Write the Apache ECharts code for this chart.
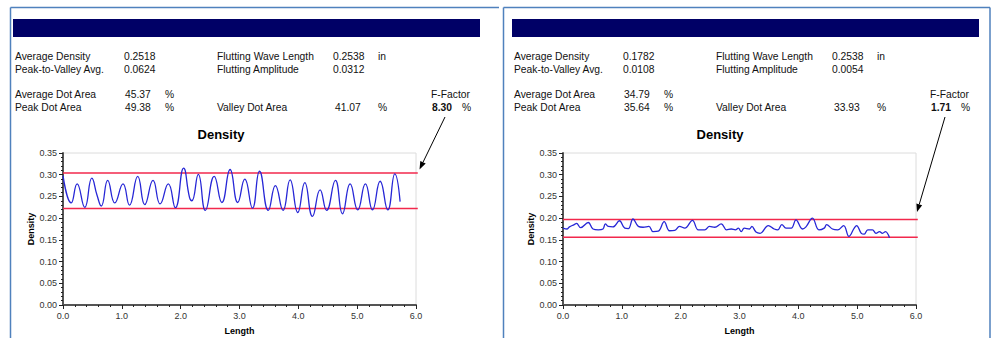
<!DOCTYPE html>
<html>
<head>
<meta charset="utf-8">
<script src="https://cdn.jsdelivr.net/npm/echarts@6/dist/echarts.min.js"></script>
<style>
html,body{margin:0;padding:0;background:#fff;}
#c{width:992px;height:338px;}
</style>
</head>
<body>
<div id="c"></div>
<script>
// ---- data ----
const statLabels = ['Average Density', 'Peak-to-Valley Avg.', 'Flutting Wave Length', 'Flutting Amplitude', 'Average Dot Area', 'Peak Dot Area', 'Valley Dot Area'];
const leftStats = ['0.2518', '0.0624', '0.2538', '0.0312', '45.37', '49.38', '41.07'];
const rightStats = ['0.1782', '0.0108', '0.2538', '0.0054', '34.79', '35.64', '33.93'];
const fFactors = ['8.30', '1.71'];
const chartTitle = 'Density';
const xName = 'Length';
const yName = 'Density';

const leftX = [0, 0.14, 0.24, 0.37, 0.49, 0.58, 0.65, 0.76, 0.88, 1.02, 1.13, 1.27, 1.39, 1.53, 1.65, 1.79, 1.91, 2.05, 2.15, 2.19, 2.30, 2.42, 2.57, 2.70, 2.84, 2.97, 3.09, 3.22, 3.34, 3.49, 3.61, 3.74, 3.86, 3.99, 4.11, 4.24, 4.37, 4.48, 4.63, 4.75, 4.88, 5.01, 5.14, 5.26, 5.39, 5.52, 5.64, 5.73];
const leftY = [0.298, 0.235, 0.279, 0.225, 0.292, 0.252, 0.228, 0.287, 0.235, 0.279, 0.230, 0.296, 0.231, 0.287, 0.233, 0.279, 0.224, 0.315, 0.248, 0.240, 0.301, 0.218, 0.296, 0.236, 0.312, 0.236, 0.290, 0.223, 0.308, 0.218, 0.275, 0.218, 0.288, 0.213, 0.282, 0.204, 0.265, 0.218, 0.287, 0.210, 0.279, 0.219, 0.279, 0.219, 0.285, 0.219, 0.302, 0.238];

const rightX = [0, 0.07, 0.11, 0.19, 0.23, 0.30, 0.43, 0.51, 0.60, 0.68, 0.72, 0.77, 0.85, 0.96, 1.05, 1.11, 1.19, 1.28, 1.36, 1.46, 1.53, 1.62, 1.72, 1.81, 1.90, 1.98, 2.07, 2.20, 2.30, 2.41, 2.49, 2.58, 2.69, 2.78, 2.86, 2.93, 2.98, 3.03, 3.08, 3.17, 3.21, 3.28, 3.35, 3.49, 3.59, 3.65, 3.72, 3.79, 3.88, 3.96, 4.07, 4.13, 4.24, 4.35, 4.44, 4.48, 4.58, 4.67, 4.77, 4.86, 4.95, 4.99, 5.07, 5.12, 5.18, 5.26, 5.32, 5.38, 5.43, 5.48, 5.55];
const rightY = [0.177, 0.175, 0.180, 0.185, 0.188, 0.178, 0.190, 0.175, 0.173, 0.175, 0.187, 0.181, 0.180, 0.194, 0.177, 0.176, 0.198, 0.181, 0.179, 0.181, 0.169, 0.170, 0.192, 0.171, 0.172, 0.181, 0.177, 0.195, 0.173, 0.173, 0.181, 0.179, 0.187, 0.173, 0.175, 0.173, 0.177, 0.169, 0.177, 0.175, 0.181, 0.168, 0.165, 0.183, 0.175, 0.173, 0.185, 0.177, 0.177, 0.196, 0.175, 0.180, 0.200, 0.173, 0.177, 0.185, 0.175, 0.173, 0.183, 0.158, 0.177, 0.183, 0.165, 0.163, 0.173, 0.173, 0.165, 0.169, 0.165, 0.169, 0.155];

const leftLimits = [0.304, 0.222];
const rightLimits = [0.197, 0.156];

// ---- build ----
const FONT = "'Liberation Sans', Arial, sans-serif";
const chart = echarts.init(document.getElementById('c'), null, {renderer: 'svg', width: 992, height: 338});

function pairs(xs, ys) { return xs.map((x, i) => [x, ys[i]]); }

function textEl(x, y, text, opts) {
  opts = opts || {};
  return {
    type: 'text', x: x, y: y, silent: true,
    style: {
      text: text,
      fontFamily: FONT,
      fontSize: opts.size || 10.3,
      fontWeight: opts.bold ? 'bold' : 'normal',
      fill: opts.color || '#111',
      align: opts.align || 'left',
      verticalAlign: 'middle'
    }
  };
}
function lineEl(x1, y1, x2, y2, color, w) {
  return { type: 'line', silent: true, shape: {x1, y1, x2, y2}, style: {stroke: color, lineWidth: w} };
}
function arrowEls(x1, y1, x2, y2) {
  const dx = x2 - x1, dy = y2 - y1, L = Math.hypot(dx, dy);
  const ux = dx / L, uy = dy / L, hl = 8, hw = 3;
  const bx = x2 - ux * hl, by = y2 - uy * hl;
  return [
    lineEl(x1, y1, bx, by, '#000', 1),
    { type: 'polygon', silent: true, shape: { points: [[x2, y2], [bx - uy * hw, by + ux * hw], [bx + uy * hw, by - ux * hw]] }, style: {fill: '#000'} }
  ];
}

const graphics = [];
const frameColor = '#4f81bd';
graphics.push(lineEl(10.5, 7.5, 10.5, 338, frameColor, 1.5));
graphics.push(lineEl(10.5, 7.5, 499, 7.5, frameColor, 1.5));
graphics.push(lineEl(503.5, 7.5, 990, 7.5, frameColor, 1.5));
graphics.push(lineEl(503.5, 7.5, 503.5, 338, frameColor, 1.5));
graphics.push(lineEl(990, 7.5, 990, 338, frameColor, 1.5));

function panel(off, stats, ff, arrowFrom, arrowTo) {
  const g = [];
  g.push({ type: 'rect', silent: true, shape: {x: 13 + off, y: 19, width: 467, height: 18}, style: {fill: '#000066'} });
  const r1 = 56, r2 = 69, r3 = 94, r4 = 107;
  g.push(textEl(15 + off, r1, statLabels[0]));
  g.push(textEl(124 + off, r1, stats[0]));
  g.push(textEl(15 + off, r2, statLabels[1]));
  g.push(textEl(124 + off, r2, stats[1]));
  g.push(textEl(217 + off, r1, statLabels[2]));
  g.push(textEl(333 + off, r1, stats[2]));
  g.push(textEl(378 + off, r1, 'in'));
  g.push(textEl(217 + off, r2, statLabels[3]));
  g.push(textEl(333 + off, r2, stats[3]));
  g.push(textEl(15 + off, r3, statLabels[4]));
  g.push(textEl(125 + off, r3, stats[4]));
  g.push(textEl(165 + off, r3, '%'));
  g.push(textEl(15 + off, r4, statLabels[5]));
  g.push(textEl(125 + off, r4, stats[5]));
  g.push(textEl(165 + off, r4, '%'));
  g.push(textEl(217 + off, r4, statLabels[6]));
  g.push(textEl(335 + off, r4, stats[6]));
  g.push(textEl(378 + off, r4, '%'));
  g.push(textEl(431 + off, r3, 'F-Factor'));
  g.push(textEl(432 + off, r4, ff, {bold: true}));
  g.push(textEl(462 + off, r4, '%'));
  g.push(textEl(221 + off, 134, chartTitle, {bold: true, size: 13, align: 'center', color: '#000'}));
  arrowEls(arrowFrom[0], arrowFrom[1], arrowTo[0], arrowTo[1]).forEach(e => g.push(e));
  return g;
}
panel(0, leftStats, fFactors[0], [445, 117], [419.5, 169.5]).forEach(e => graphics.push(e));
panel(499, rightStats, fFactors[1], [945, 117], [917, 212]).forEach(e => graphics.push(e));

function gridCfg(left) {
  return { left: left, top: 153, width: 353, height: 152, show: true, borderColor: '#dcdcdc', borderWidth: 1, backgroundColor: '#fff' };
}
function xAxisCfg(gi) {
  return {
    gridIndex: gi, type: 'value', min: 0, max: 6, interval: 1,
    name: xName, nameLocation: 'middle', nameGap: 21,
    nameTextStyle: {fontFamily: FONT, fontSize: 9, fontWeight: 'bold', color: '#000'},
    axisLine: {show: true, onZero: false, lineStyle: {color: '#555', width: 2}},
    axisTick: {show: true, length: 4, lineStyle: {color: '#222', width: 1}},
    minorTick: {show: true, splitNumber: 5, length: 2, lineStyle: {color: '#222', width: 1}},
    axisLabel: {fontFamily: FONT, fontSize: 9, color: '#333', margin: 6, formatter: v => v.toFixed(1)},
    splitLine: {show: false}
  };
}
function yAxisCfg(gi) {
  return {
    gridIndex: gi, type: 'value', min: 0, max: 0.35, interval: 0.05,
    name: yName, nameLocation: 'middle', nameGap: 28,
    nameTextStyle: {fontFamily: FONT, fontSize: 9, fontWeight: 'bold', color: '#000'},
    axisLine: {show: true, onZero: false, lineStyle: {color: '#555', width: 2}},
    axisTick: {show: true, length: 4, lineStyle: {color: '#222', width: 1}},
    minorTick: {show: true, splitNumber: 5, length: 2, lineStyle: {color: '#222', width: 1}},
    axisLabel: {fontFamily: FONT, fontSize: 9, color: '#333', margin: 6, formatter: v => v.toFixed(2)},
    splitLine: {show: false}
  };
}
function limitSeries(gi, v) {
  return {
    type: 'line', xAxisIndex: gi, yAxisIndex: gi, data: [[0, v], [6.03, v]],
    symbol: 'none', clip: false, silent: true, z: 3,
    lineStyle: {color: '#f2284c', width: 1.5}
  };
}
function curveSeries(gi, xs, ys, sm) {
  return {
    type: 'line', xAxisIndex: gi, yAxisIndex: gi, data: pairs(xs, ys),
    symbol: 'none', smooth: sm, silent: true, z: 4,
    lineStyle: {color: '#2626d6', width: 1.3}
  };
}

chart.setOption({
  animation: false,
  backgroundColor: '#fff',
  grid: [gridCfg(63), gridCfg(563)],
  xAxis: [xAxisCfg(0), xAxisCfg(1)],
  yAxis: [yAxisCfg(0), yAxisCfg(1)],
  series: [
    limitSeries(0, leftLimits[0]), limitSeries(0, leftLimits[1]),
    curveSeries(0, leftX, leftY, 0.5),
    limitSeries(1, rightLimits[0]), limitSeries(1, rightLimits[1]),
    curveSeries(1, rightX, rightY, 0.4)
  ],
  graphic: graphics
});
</script>
</body>
</html>
